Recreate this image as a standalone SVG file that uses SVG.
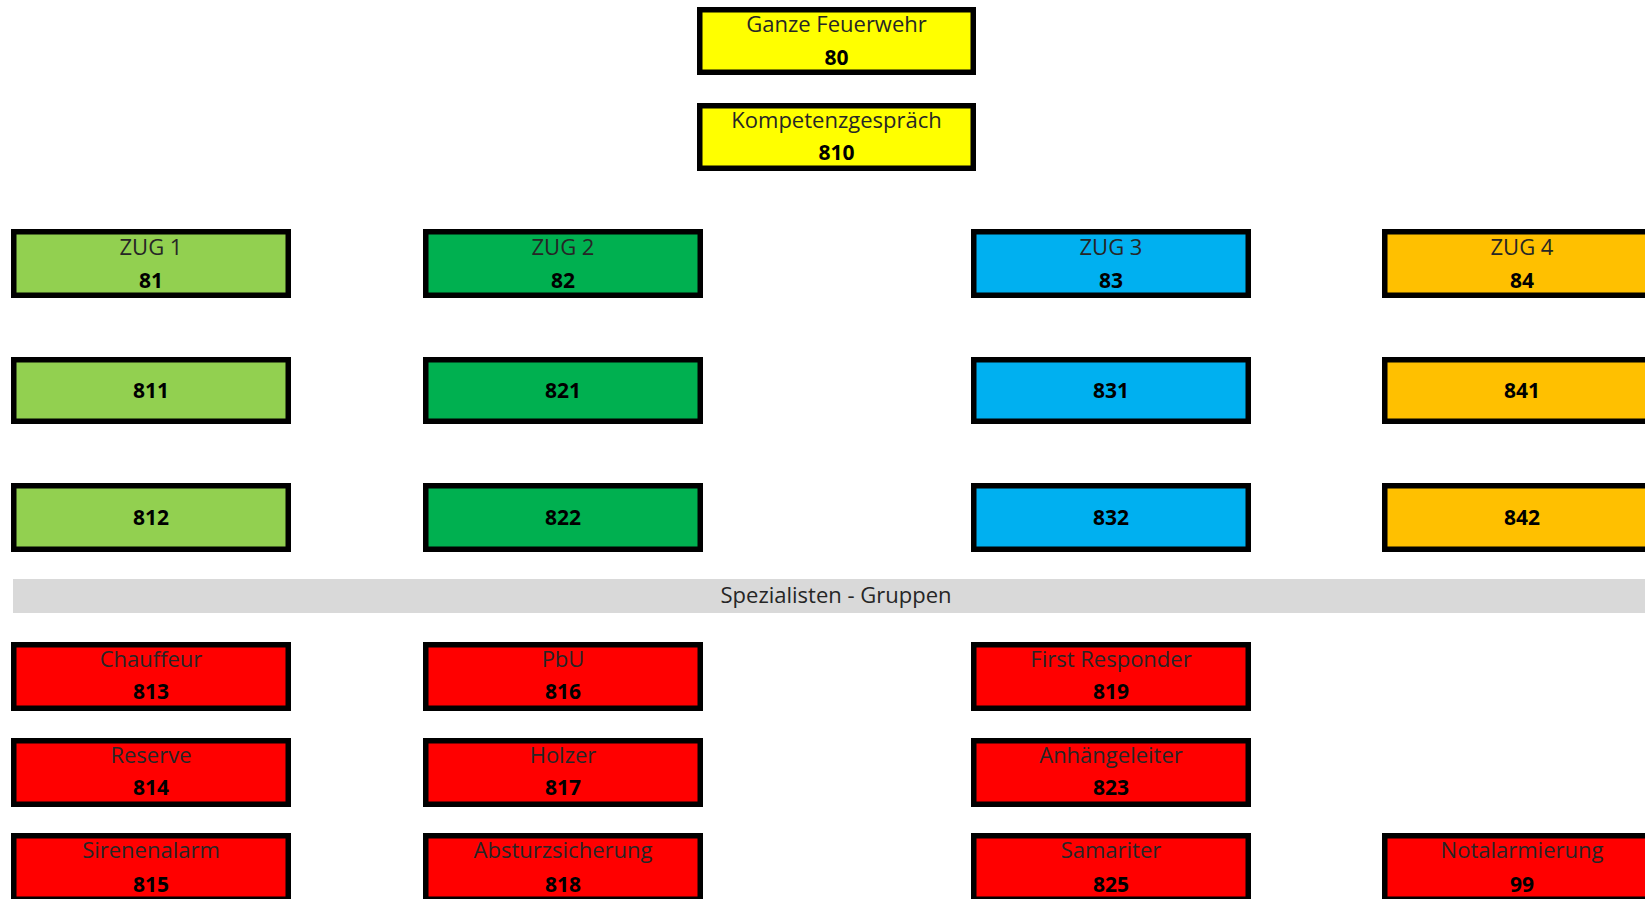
<svg xmlns="http://www.w3.org/2000/svg" width="1645" height="899" viewBox="0 0 1645 899">
<style>
.box{stroke:#000;stroke-width:5.5}
.lbl{font-family:"Open Sans","Liberation Sans",sans-serif;font-size:22px;fill:#262626;text-anchor:middle}
.num{font-family:"Open Sans","Liberation Sans",sans-serif;font-size:21px;font-weight:bold;fill:#000;text-anchor:middle}
.y{fill:#FFFF00}.g1{fill:#92D050}.g2{fill:#00B050}.b{fill:#00B0F0}.o{fill:#FFC000}.r{fill:#FF0000}
</style>
<rect width="1645" height="899" fill="#fff"/>
<g id="band">
<rect x="13" y="579" width="1632" height="34" fill="#D9D9D9"/>
<text class="lbl" x="836" y="603" fill="#1F2A44">Spezialisten - Gruppen</text>
</g>
<g id="n80"><rect class="box y" x="699.75" y="9.75" width="273.5" height="62.5"/><text class="lbl" x="836.5" y="32">Ganze Feuerwehr</text><text class="num" x="836.5" y="65">80</text></g>
<g id="n810"><rect class="box y" x="699.75" y="105.75" width="273.5" height="62.5"/><text class="lbl" x="836.5" y="128">Kompetenzgespräch</text><text class="num" x="836.5" y="160">810</text></g>

<g id="n81"><rect class="box g1" x="13.75" y="231.75" width="274.5" height="63.5"/><text class="lbl" x="151" y="255">ZUG 1</text><text class="num" x="151" y="288">81</text></g>
<g id="n82"><rect class="box g2" x="425.75" y="231.75" width="274.5" height="63.5"/><text class="lbl" x="563" y="255">ZUG 2</text><text class="num" x="563" y="288">82</text></g>
<g id="n83"><rect class="box b" x="973.75" y="231.75" width="274.5" height="63.5"/><text class="lbl" x="1111" y="255">ZUG 3</text><text class="num" x="1111" y="288">83</text></g>
<g id="n84"><rect class="box o" x="1384.75" y="231.75" width="274.5" height="63.5"/><text class="lbl" x="1522" y="255">ZUG 4</text><text class="num" x="1522" y="288">84</text></g>

<g id="n811"><rect class="box g1" x="13.75" y="359.75" width="274.5" height="61.5"/><text class="num" x="151" y="398">811</text></g>
<g id="n821"><rect class="box g2" x="425.75" y="359.75" width="274.5" height="61.5"/><text class="num" x="563" y="398">821</text></g>
<g id="n831"><rect class="box b" x="973.75" y="359.75" width="274.5" height="61.5"/><text class="num" x="1111" y="398">831</text></g>
<g id="n841"><rect class="box o" x="1384.75" y="359.75" width="274.5" height="61.5"/><text class="num" x="1522" y="398">841</text></g>

<g id="n812"><rect class="box g1" x="13.75" y="485.75" width="274.5" height="63.5"/><text class="num" x="151" y="525">812</text></g>
<g id="n822"><rect class="box g2" x="425.75" y="485.75" width="274.5" height="63.5"/><text class="num" x="563" y="525">822</text></g>
<g id="n832"><rect class="box b" x="973.75" y="485.75" width="274.5" height="63.5"/><text class="num" x="1111" y="525">832</text></g>
<g id="n842"><rect class="box o" x="1384.75" y="485.75" width="274.5" height="63.5"/><text class="num" x="1522" y="525">842</text></g>

<g id="n813"><rect class="box r" x="13.75" y="644.75" width="274.5" height="63.5"/><text class="lbl" x="151" y="667">Chauffeur</text><text class="num" x="151" y="699">813</text></g>
<g id="n816"><rect class="box r" x="425.75" y="644.75" width="274.5" height="63.5"/><text class="lbl" x="563" y="667">PbU</text><text class="num" x="563" y="699">816</text></g>
<g id="n819"><rect class="box r" x="973.75" y="644.75" width="274.5" height="63.5"/><text class="lbl" x="1111" y="667">First Responder</text><text class="num" x="1111" y="699">819</text></g>

<g id="n814"><rect class="box r" x="13.75" y="740.75" width="274.5" height="63.5"/><text class="lbl" x="151" y="763">Reserve</text><text class="num" x="151" y="795">814</text></g>
<g id="n817"><rect class="box r" x="425.75" y="740.75" width="274.5" height="63.5"/><text class="lbl" x="563" y="763">Holzer</text><text class="num" x="563" y="795">817</text></g>
<g id="n823"><rect class="box r" x="973.75" y="740.75" width="274.5" height="63.5"/><text class="lbl" x="1111" y="763">Anhängeleiter</text><text class="num" x="1111" y="795">823</text></g>

<g id="n815"><rect class="box r" x="13.75" y="835.75" width="274.5" height="63.5"/><text class="lbl" x="151" y="858">Sirenenalarm</text><text class="num" x="151" y="892">815</text></g>
<g id="n818"><rect class="box r" x="425.75" y="835.75" width="274.5" height="63.5"/><text class="lbl" x="563" y="858">Absturzsicherung</text><text class="num" x="563" y="892">818</text></g>
<g id="n825"><rect class="box r" x="973.75" y="835.75" width="274.5" height="63.5"/><text class="lbl" x="1111" y="858">Samariter</text><text class="num" x="1111" y="892">825</text></g>
<g id="n99"><rect class="box r" x="1384.75" y="835.75" width="274.5" height="63.5"/><text class="lbl" x="1522" y="858">Notalarmierung</text><text class="num" x="1522" y="892">99</text></g>
<g id="connectors"></g>
</svg>
